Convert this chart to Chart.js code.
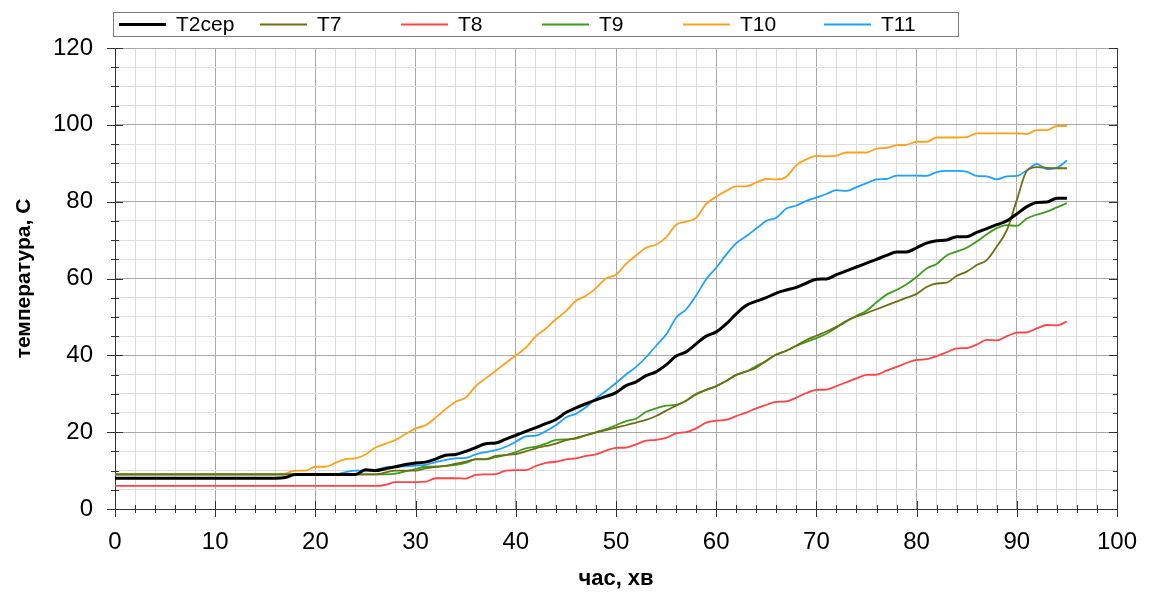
<!DOCTYPE html>
<html>
<head>
<meta charset="utf-8">
<script src="https://cdn.jsdelivr.net/npm/chart.js@4.4.0/dist/chart.umd.min.js"></script>
<style>
  html, body { margin: 0; padding: 0; background: #ffffff; }
  #wrap { width: 1149px; height: 592px; position: relative; }
</style>
</head>
<body>
<div id="wrap"><canvas id="c" width="1149" height="592"></canvas></div>
<script>
// ---- data ----
const timeMin = [0,1,2,3,4,5,6,7,8,9,10,11,12,13,14,15,16,17,18,19,20,21,22,23,24,25,26,27,28,29,30,31,32,33,34,35,36,37,38,39,40,41,42,43,44,45,46,47,48,49,50,51,52,53,54,55,56,57,58,59,60,61,62,63,64,65,66,67,68,69,70,71,72,73,74,75,76,77,78,79,80,81,82,83,84,85,86,87,88,89,90,91,92,93,94,95];

const T2cer = [8,8,8,8,8,8,8,8,8,8,8,8,8,8,8,8,8,8.2,9,9,9,9,9,9,9,
  10.2,10,10.5,11,11.6,12,12.2,13,14,14.2,15,16,17,17.2,18.2,19.2,20.2,21.2,22.2,23.3,25.1,26.3,27.4,28.4,29.3,30.3,32.1,33.1,34.7,35.7,37.5,39.8,40.9,43,45,46.1,48.2,50.8,53,54.1,55,56.2,57,57.7,58.8,59.8,59.9,61,62,63,64,65,66,66.9,66.9,68,69.2,69.8,70,70.9,70.9,72,73,74,75,76.8,78.7,79.8,79.9,80.9,80.9];

const T7 = [9,9,9,9,9,9,9,9,9,9,9,9,9,9,9,9,9,9,9,9,9,9,9,9,9,9,9,
  9.5,10,10,10,10.6,11,11.2,11.8,12.3,13,13,13.8,14.1,14.3,15,15.8,16.4,17,17.9,18.5,19.2,19.9,20.5,21.2,21.8,22.5,23.2,24.2,25.6,26.9,28.2,29.8,31,32,33.3,34.9,35.8,36.8,38.6,40.2,41.2,42.5,44,45.1,46.2,47.4,49,50.1,51,52,53,54,55,56,57.8,58.7,58.9,60.7,61.8,63.5,64.8,68.3,72.5,80.4,88,89,88.8,88.7,88.7];

const T8 = [6,6,6,6,6,6,6,6,6,6,6,6,6,6,6,6,6,6,6,6,6,6,6,6,6,6,6,
  6.3,7,7,7,7.1,8,8,8,7.9,8.9,9,9.1,10,10.1,10.1,11.2,12,12.3,12.9,13.2,13.8,14.2,15.2,15.9,16,16.8,17.8,18,18.5,19.7,20,21,22.5,23,23.2,24.2,25.1,26.2,27.1,27.9,28,29,30.2,31,31.1,32,33,34,34.9,35,36,37,38,38.8,39,39.8,40.8,41.8,41.9,42.8,44,43.9,45,45.9,46,47,47.9,47.8,48.8];

const T9 = [9,9,9,9,9,9,9,9,9,9,9,9,9,9,9,9,9,9,9,9,9,9,9,9,9,9,9,9,
  9.2,9.8,10.4,11,11,11.2,11.5,12,12.9,12.9,13.5,14,14.8,15.8,16.2,17,18,18.1,18.3,19.2,20,20.8,21.8,22.9,23.5,25.3,26.2,26.9,27.1,28.2,30,31,32,33.3,34.9,35.8,37.2,38.5,40.2,41.2,42.5,43.5,44.5,45.6,47.2,48.8,50.3,51.6,53.8,55.8,57,58.5,60.4,62.6,63.8,66,67,68,69.6,71.5,73.1,73.9,73.7,75.6,76.6,77.4,78.5,79.6];

const T10 = [9,9,9,9,9,9,9,9,9,9,9,9,9,9,9,9,9,
  9.2,10,10,11,11,12,13,13.2,14.2,16,17,18,19.5,21,21.8,23.8,26,27.9,29,32,34,36,38,40,42,45,47,49.4,51.5,54.2,55.5,57.5,60,61,63.8,66,68,68.8,70.7,74,74.8,75.8,79.4,81.3,82.8,84,84,85,85.9,85.8,86.5,89.5,91,91.9,91.8,92,92.8,92.8,92.8,93.8,94,94.7,94.8,95.6,95.6,96.7,96.7,96.7,96.8,97.8,97.8,97.8,97.8,97.8,97.6,98.6,98.6,99.7,99.7];

const T11 = [9,9,9,9,9,9,9,9,9,9,9,9,9,9,9,9,9,9,9,9,9,9,9,
  9.6,10,10,10.2,10.8,11,11.1,11.3,11.5,12.2,12.8,13.2,13.3,14.2,14.8,15.3,16.2,17.5,18.9,19.1,20.3,21.8,23.8,24.8,26.5,28.8,30.7,32.8,35,37,39.5,42.5,45.4,49.8,52,55.6,59.8,62.8,66.2,69.2,71,73,75,75.8,78.2,79,80.2,81.1,82,83,82.8,83.8,84.8,85.8,85.9,86.8,86.8,86.8,86.7,87.7,88,88,87.8,86.7,86.6,85.8,86.6,86.7,88.2,89.8,88.5,88.8,90.7];

const seriesNames = ['T2сер', 'T7', 'T8', 'T9', 'T10', 'T11'];
const seriesValues = [T2cer, T7, T8, T9, T10, T11];
const seriesColors = ['#000000', '#6e6e12', '#ff4444', '#3c9c1c', '#ffa01e', '#1ea0ff'];
const seriesWidths = [3, 1.8, 1.8, 1.8, 1.8, 1.8];

const xTitle = 'час, хв';
const yTitle = 'температура, С';

const FONT = "'Liberation Sans', Arial, sans-serif";

const datasets = seriesNames.map((name, i) => ({
  label: name,
  data: timeMin.map((t, k) => ({ x: t, y: seriesValues[i][k] })),
  borderColor: seriesColors[i],
  backgroundColor: seriesColors[i],
  borderWidth: seriesWidths[i],
  pointRadius: 0,
  cubicInterpolationMode: 'monotone',
  fill: false
}));

// draws axis tick marks (crossing), right frame and the framed legend
const decorPlugin = {
  id: 'decor',
  afterDraw(chart) {
    const ctx = chart.ctx;
    const xs = chart.scales.x, ys = chart.scales.y;
    const a = chart.chartArea;
    ctx.save();
    ctx.strokeStyle = '#333333';
    ctx.lineWidth = 1;
    // right frame line
    ctx.beginPath();
    ctx.moveTo(Math.round(a.right) + 0.5, a.top);
    ctx.lineTo(Math.round(a.right) + 0.5, a.bottom);
    ctx.stroke();
    // x ticks
    ctx.beginPath();
    xs.ticks.forEach(t => {
      const px = Math.round(xs.getPixelForValue(t.value)) + 0.5;
      const major = t.value % 10 === 0;
      const len = major ? 8 : 4;
      ctx.moveTo(px, a.bottom - len);
      ctx.lineTo(px, a.bottom + len);
    });
    // y ticks (left crossing, right inward)
    ys.ticks.forEach(t => {
      const py = Math.round(ys.getPixelForValue(t.value)) + 0.5;
      const major = t.value % 20 === 0;
      const len = major ? 8 : 4;
      ctx.moveTo(a.left - len, py);
      ctx.lineTo(a.left + len, py);
      ctx.moveTo(a.right - len, py);
      ctx.lineTo(a.right, py);
    });
    ctx.stroke();

    // legend box
    const bx = 113, by = 12, bw = 845, bh = 24;
    ctx.strokeStyle = '#7a7a7a';
    ctx.strokeRect(bx + 0.5, by + 0.5, bw, bh);
    ctx.font = '21px ' + FONT;
    ctx.textBaseline = 'middle';
    ctx.fillStyle = '#000';
    chart.data.datasets.forEach((ds, i) => {
      const lx = 119 + 141 * i;
      const cy = by + bh / 2 + 0.5;
      ctx.beginPath();
      ctx.strokeStyle = ds.borderColor;
      ctx.lineWidth = i === 0 ? 3 : 2;
      ctx.moveTo(lx, cy);
      ctx.lineTo(lx + 47, cy);
      ctx.stroke();
      ctx.fillText(ds.label, lx + 57, cy + 1);
    });
    ctx.restore();
  }
};

new Chart(document.getElementById('c'), {
  type: 'line',
  data: { datasets },
  plugins: [decorPlugin],
  options: {
    responsive: false,
    animation: false,
    layout: { padding: { top: 48, right: 32, left: 0, bottom: 0 } },
    plugins: { legend: { display: false }, tooltip: { enabled: false } },
    scales: {
      x: {
        type: 'linear',
        min: 0, max: 100,
        afterFit(s) { s.height = 83; s.paddingRight = 20; s.paddingLeft = 0; },
        ticks: {
          stepSize: 2, autoSkip: false, maxRotation: 0, padding: 19,
          color: '#000', font: { family: FONT, size: 24 },
          callback: v => (v % 10 === 0 ? String(v) : '')
        },
        grid: {
          drawTicks: false,
          color: c => (c.tick && c.tick.value % 10 === 0 ? '#a8a8a8' : '#dddddd'),
          lineWidth: 1
        },
        border: { color: '#333333', width: 1 },
        title: {
          display: true, text: xTitle, color: '#000',
          font: { family: FONT, size: 22, weight: 'bold' },
          padding: { top: 0, bottom: 0 }
        }
      },
      y: {
        type: 'linear',
        min: 0, max: 120,
        afterFit(s) { s.width = 115; },
        ticks: {
          stepSize: 5, autoSkip: false, padding: 22,
          color: '#000', font: { family: FONT, size: 24 },
          callback: v => (v % 20 === 0 ? String(v) : '')
        },
        grid: {
          drawTicks: false,
          color: c => (c.tick && c.tick.value % 20 === 0 ? '#a8a8a8' : '#dddddd'),
          lineWidth: 1
        },
        border: { color: '#333333', width: 1 },
        title: {
          display: true, text: yTitle, color: '#000',
          font: { family: FONT, size: 21, weight: 'bold' },
          padding: { top: 12, bottom: 0 }
        }
      }
    }
  }
});
</script>
</body>
</html>
